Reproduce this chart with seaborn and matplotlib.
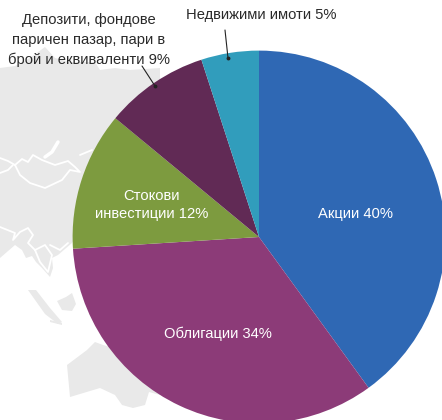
import matplotlib
matplotlib.use('Agg')
import matplotlib.pyplot as plt
import seaborn as sns

categories = ['Акции 40%', 'Облигации 34%', 'Стокови\nинвестиции 12%',
              'Депозити, фондове\nпаричен пазар, пари в\nброй и еквиваленти 9%',
              'Недвижими имоти 5%']
values = [40, 34, 12, 9, 5]
colors = ['#2f68b4', '#8c3b78', '#7d9b3f', '#612a55', '#319dbc']

# background map, rough outline in pixels
asia_x = [0, 15, 30, 45, 55, 70, 95, 100, 115, 130, 160, 160, 72, 58, 52, 53, 50, 42, 36, 32, 26, 22, 15, 0]
asia_y = [68, 66, 58, 47, 58, 62, 62, 70, 68, 70, 68, 120, 243, 255, 258, 268, 277, 268, 262, 256, 258, 250, 245, 258]
aus_x = [67, 87, 95, 103, 160, 160, 149, 145, 133, 122, 115, 100, 70]
aus_y = [365, 350, 342, 345, 360, 395, 392, 405, 408, 405, 395, 388, 397]
sumatra_x = [28, 36, 50, 62, 58, 45]
sumatra_y = [290, 290, 308, 322, 324, 314]
borneo_x = [57, 66, 72, 76, 72, 62]
borneo_y = [301, 297, 293, 304, 311, 310]
java_x = [50, 62, 62, 50]
java_y = [320, 323, 325, 322]
mongolia_x = [0, 8, 15, 22, 28, 33, 42, 55, 68, 75, 80, 70, 62, 45, 30, 20, 15]
mongolia_y = [158, 161, 165, 159, 162, 155, 160, 165, 161, 167, 172, 170, 180, 188, 183, 175, 165]
border_x = [[0, 8, 13], [80, 92], [0, 15, 13, 20, 28, 33, 28, 35, 45, 52, 48, 40, 35],
            [50, 60, 68]]
border_y = [[173, 170, 165], [155, 150], [227, 233, 240, 232, 228, 235, 243, 250, 245, 255, 272, 262, 250],
            [245, 250, 243]]
baikal_x = [45, 52, 58]
baikal_y = [157, 152, 142]

sns.set_theme(style='white')
plt.rcParams['font.family'] = ['Liberation Sans', 'DejaVu Sans']

fig = plt.figure(figsize=(4.42, 4.20), dpi=100)

bg = fig.add_axes([0, 0, 1, 1])
bg.set_xlim(0, 442)
bg.set_ylim(420, 0)
bg.axis('off')
for xs, ys in [(asia_x, asia_y), (aus_x, aus_y), (sumatra_x, sumatra_y),
               (borneo_x, borneo_y), (java_x, java_y)]:
    bg.fill(xs, ys, color='#e9e9e9', lw=0)
bg.plot(mongolia_x, mongolia_y, color='white', lw=1.3)
for xs, ys in zip(border_x, border_y):
    bg.plot(xs, ys, color='white', lw=1.3)
bg.plot(baikal_x, baikal_y, color='white', lw=2.5)

# pie runs past the right and bottom edges
ax = fig.add_axes([(259 - 233) / 442, (183 - 233) / 420, 466 / 442, 466 / 420])
ax.patch.set_alpha(0)
ax.pie(values, colors=sns.color_palette(colors), startangle=90, counterclock=False,
       radius=1, wedgeprops={'linewidth': 0})
ax.set_xlim(-1.25, 1.25)
ax.set_ylim(-1.25, 1.25)

fg = fig.add_axes([0, 0, 1, 1])
fg.patch.set_alpha(0)
fg.set_xlim(0, 442)
fg.set_ylim(420, 0)
fg.axis('off')


def label(x, y, s, color, spacing=1.5):
    fg.text(x, y, s, color=color, fontsize=10.6, ha='center', va='center', linespacing=spacing)


label(356, 214, categories[0], 'white')
label(218, 334, categories[1], 'white')
label(152, 205, categories[2], 'white', 1.35)
label(89, 40, categories[3], '#2a2a2a')
label(261, 15, categories[4], '#2a2a2a')

fg.plot([142, 155], [66, 86], color='#222222', lw=0.8)
fg.plot([155], [86], 'o', color='#222222', ms=1.8)
fg.plot([225, 228], [30, 58], color='#222222', lw=0.8)
fg.plot([228], [58], 'o', color='#222222', ms=1.8)

fig.savefig('out.png', dpi=100)
